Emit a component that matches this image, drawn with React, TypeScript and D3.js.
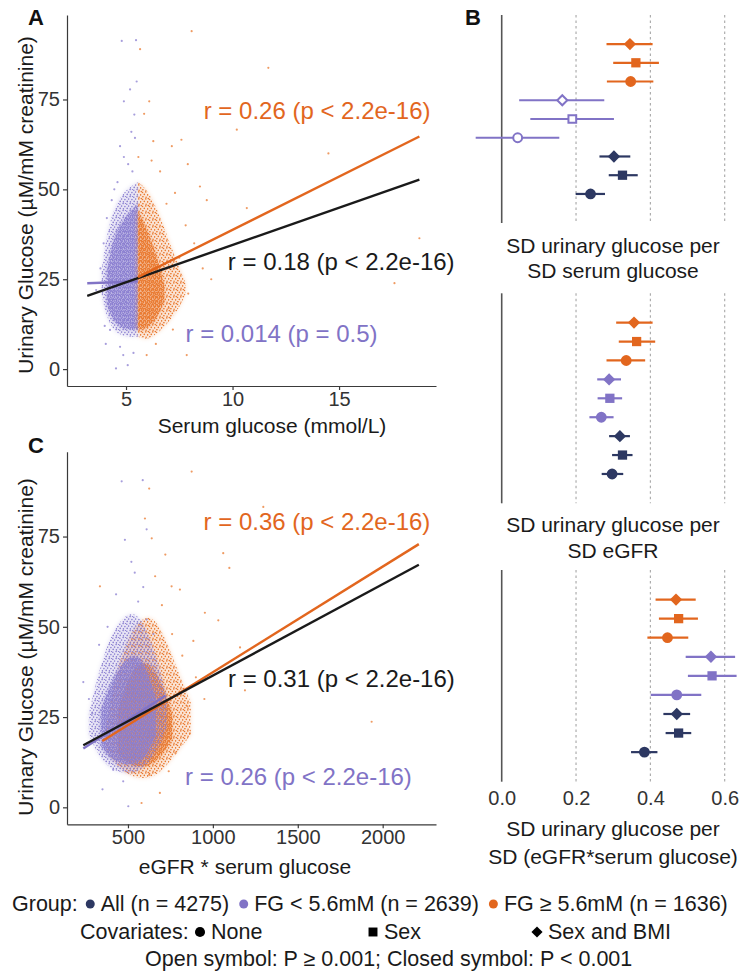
import React, { useEffect, useRef } from "react";
import * as d3 from "d3";

const ORANGE = "#E2661E";
const PURPLE = "#8173C6";
const NAVY = "#2D3862";
const ORANGE_PT = "#E9792F";
const PURPLE_PT = "#8A7ED0";
const FONT = "'Liberation Sans', Arial, Helvetica, sans-serif";

// ---- scatter: scattered points [x, urinary glucose]
const serumLowPoints = [
  [4.8, 91.3], [5.47, 91.5], [5.19, 77.8], [4.9, 74.5], [5.39, 70.8], [5.42, 64.3], [4.72, 62], [4.33, 47],
  [4.53, 0.2], [5.08, 1.1], [4.87, 3.9], [4.72, 6.2], [4.25, 10.9], [4.9, 59], [5.3, 55], [4.6, 52],
  [5.1, 57], [3.95, 35], [4.1, 42], [3.8, 28], [3.6, 22], [4.0, 12], [5.5, 80], [4.45, 50], [5.25, 66],
  [4.05, 7], [5.35, 4.5],
];
const serumHighPoints = [
  [5.66, 89], [8.08, 94], [11.68, 83.8], [6.09, 74.5], [5.85, 71], [10.2, 66.6], [6.28, 63.4], [7.15, 62],
  [7.6, 63.8], [14.5, 60], [5.58, 59], [8.47, 50.8], [8.79, 47], [10.67, 44.8], [18.77, 36.4], [17.6, 23.9],
  [7.92, 21], [7.85, 3.9], [5.97, 3.9], [6.6, 55], [7.3, 49], [6.9, 46], [7.8, 40], [8.2, 35], [7.5, 31],
  [8.6, 28], [7.0, 17], [6.4, 7], [7.2, 11], [9.0, 25], [6.2, 58], [7.9, 57],
];
const productLowPoints = [
  [463, 90.3], [587, 90.6], [610, 77], [482, 74.1], [237, 34.7], [502, 0.3], [472, 7.2], [413, 10.4],
  [590, 61], [560, 57], [430, 59], [520, 68], [380, 50], [290, 26], [270, 30], [330, 45], [610, 52],
  [650, 48], [350, 5], [540, 65],
];
const productHighPoints = [
  [625, 88.3], [875, 93], [1297, 83.2], [640, 74.5], [335, 61.2], [1061, 70.4], [1097, 66.3], [757, 61.2],
  [806, 60.3], [953, 53.9], [1032, 51.8], [1160, 44.3], [885, 46.1], [1935, 23.7], [1189, 32.4], [865, 20.5],
  [580, 1.2], [688, 4], [625, 9], [700, 56], [760, 48], [820, 42], [900, 36], [850, 28], [780, 15],
  [740, 10], [950, 30], [660, 64], [720, 70], [600, 80],
];

// ---- dense part of each cloud: [x, low y, high y] (cloud = sparse edge, core = dense middle)
const serumLowCloud = [[3.85, 21, 27], [4.1, 14, 38], [4.5, 10, 46], [5.0, 9, 50], [5.56, 9, 52]];
const serumLowCore = [[4.1, 18, 27], [4.4, 13, 37], [4.9, 11, 42], [5.56, 11, 46]];
const serumHighCloud = [[5.56, 9, 52], [6.0, 8, 50], [6.5, 10, 44], [7.0, 13, 36], [7.5, 17, 28], [7.8, 21, 24]];
const serumHighCore = [[5.56, 11, 44], [5.9, 11, 40], [6.3, 13, 34], [6.6, 16, 28], [6.8, 19, 23]];
const productLowCloud = [[270, 20, 26], [340, 13, 40], [420, 10, 50], [520, 9, 55], [600, 11, 51], [680, 16, 40], [730, 22, 30]];
const productLowCore = [[340, 17, 27], [400, 13, 35], [480, 12, 41], [560, 12, 43], [620, 15, 37], [665, 20, 30]];
const productHighCloud = [[370, 16, 22], [440, 11, 40], [540, 8, 51], [640, 8, 54], [720, 11, 47], [800, 16, 37], [870, 20, 29]];
const productHighCore = [[440, 15, 26], [500, 12, 36], [580, 11, 41], [650, 12, 39], [710, 15, 33], [760, 19, 26]];

// ---- fitted lines, end points
const serumFitAll = [[3.18, 20.4], [18.77, 52.7]];
const serumFitLow = [[3.18, 23.9], [5.55, 24.4]];
const serumFitHigh = [[5.56, 25.6], [18.77, 64.7]];
const productFitAll = [[237, 17.2], [2213, 67.2]];
const productFitLow = [[237, 16.3], [722, 31.0]];
const productFitHigh = [[349, 18.4], [2213, 72.9]];

// labels: FG >= 5.6, All, FG < 5.6
const serumLabels = ["r = 0.26 (p < 2.2e-16)", "r = 0.18 (p < 2.2e-16)", "r = 0.014 (p = 0.5)"];
const productLabels = ["r = 0.36 (p < 2.2e-16)", "r = 0.31 (p < 2.2e-16)", "r = 0.26 (p < 2.2e-16)"];

const yTicks = [0, 25, 50, 75];
const serumTicks = [5, 10, 15];
const productTicks = [500, 1000, 1500, 2000];

// ---- forest plots, rows top to bottom
const rowGroup = ["high", "high", "high", "low", "low", "low", "all", "all", "all"];
const rowCovariate = ["bmi", "sex", "none", "bmi", "sex", "none", "bmi", "sex", "none"];
const serumEst = [0.345, 0.361, 0.347, 0.163, 0.19, 0.043, 0.302, 0.325, 0.239];
const serumLo = [0.282, 0.3, 0.283, 0.047, 0.077, -0.07, 0.263, 0.288, 0.199];
const serumHi = [0.406, 0.423, 0.408, 0.276, 0.302, 0.155, 0.346, 0.366, 0.278];
const serumClosed = [true, true, true, false, false, false, true, true, true];
const egfrEst = [0.356, 0.363, 0.335, 0.289, 0.291, 0.268, 0.318, 0.325, 0.297];
const egfrLo = [0.308, 0.315, 0.282, 0.257, 0.258, 0.236, 0.289, 0.297, 0.269];
const egfrHi = [0.406, 0.413, 0.386, 0.321, 0.324, 0.301, 0.345, 0.352, 0.327];
const productEst = [0.469, 0.476, 0.446, 0.563, 0.566, 0.471, 0.471, 0.476, 0.384];
const productLo = [0.414, 0.423, 0.392, 0.495, 0.501, 0.401, 0.435, 0.441, 0.348];
const productHi = [0.522, 0.528, 0.502, 0.628, 0.632, 0.537, 0.507, 0.51, 0.419];
const forestTicks = [0, 0.2, 0.4, 0.6];

const groupNames = ["All (n = 4275)", "FG < 5.6mM (n = 2639)", "FG ≥ 5.6mM (n = 1636)"];
const covariateNames = ["None", "Sex", "Sex and BMI"];

const groupColor = { all: NAVY, low: PURPLE, high: ORANGE };

// speckle texture used to fill the dense clouds
const SPARSE_DOTS = [[0.8, 1.2], [4.1, 0.6], [2.6, 3.1], [5.9, 3.6], [1.2, 5.4], [4.4, 5.9], [6.6, 0.2]];
const DENSE_DOTS = [[0.5, 0.6], [2.4, 1.1], [1.3, 2.5], [3.4, 3.0], [0.2, 3.6], [2.6, 3.8]];

const shapePath = (kind, open) => {
  if (kind === "none") return d3.symbol(d3.symbolCircle, open ? 62 : 92)();
  if (kind === "sex") return d3.symbol(d3.symbolSquare, open ? 60 : 86)();
  return d3.symbol(d3.symbolSquare, open ? 50 : 76)();
};

function drawScatter(svg, cfg) {
  const x = d3.scaleLinear().domain(cfg.xDomain).range([67, 436]);
  const y = d3.scaleLinear().domain([-4.7, 98.5]).range([cfg.bottom, cfg.top]);
  const area = d3
    .area()
    .x((d) => x(d[0]))
    .y0((d) => y(d[1]))
    .y1((d) => y(d[2]))
    .curve(d3.curveBasis);
  const g = svg.append("g");

  cfg.clouds.forEach((c) => {
    g.append("path").attr("d", area(c.cloud)).attr("fill", c.color).attr("opacity", 0.2).attr("filter", "url(#soft)");
    g.append("path").attr("d", area(c.cloud)).attr("fill", `url(#sparse-${c.key})`);
    g.append("path").attr("d", area(c.core)).attr("fill", c.color).attr("opacity", 0.45).attr("filter", "url(#soft)");
    g.append("path").attr("d", area(c.core)).attr("fill", `url(#dense-${c.key})`);
    g.selectAll(null)
      .data(c.points)
      .enter()
      .append("circle")
      .attr("cx", (d) => x(d[0]))
      .attr("cy", (d) => y(d[1]))
      .attr("r", 1.1)
      .attr("fill", c.color)
      .attr("opacity", 0.75);
  });

  const line = d3
    .line()
    .x((d) => x(d[0]))
    .y((d) => y(d[1]));
  cfg.fits.forEach((f) => {
    g.append("path")
      .attr("d", line(f.data))
      .attr("fill", "none")
      .attr("stroke", f.color)
      .attr("stroke-width", 2.4);
  });

  const ya = g
    .append("g")
    .attr("transform", "translate(67,0)")
    .call(d3.axisLeft(y).tickValues(yTicks).tickSize(4).tickSizeOuter(0).tickPadding(3));
  const xa = g
    .append("g")
    .attr("transform", `translate(0,${cfg.bottom})`)
    .call(
      d3.axisBottom(x).tickValues(cfg.xTicks).tickFormat(d3.format("d")).tickSize(4).tickSizeOuter(0).tickPadding(2)
    );
  [ya, xa].forEach((a) => {
    a.selectAll("text").attr("font-size", 20).attr("font-family", FONT).attr("fill", "#333");
    a.selectAll("path, line").attr("stroke", "#3a3a3a").attr("stroke-width", 1.2);
  });

  cfg.labels.forEach((t, i) => {
    g.append("text")
      .attr("x", x(cfg.labelPos[i][0]))
      .attr("y", y(cfg.labelPos[i][1]))
      .attr("text-anchor", "middle")
      .attr("dominant-baseline", "central")
      .attr("font-family", FONT)
      .attr("font-size", 24)
      .attr("fill", cfg.labelColors[i])
      .text(t);
  });

  g.append("text")
    .attr("x", cfg.xTitlePos[0])
    .attr("y", cfg.xTitlePos[1])
    .attr("text-anchor", "middle")
    .attr("dominant-baseline", "central")
    .attr("font-family", FONT)
    .attr("font-size", 21)
    .attr("fill", "#1a1a1a")
    .text(cfg.xTitle);
  g.append("text")
    .attr("transform", `translate(25,${cfg.yTitleY}) rotate(-90)`)
    .attr("text-anchor", "middle")
    .attr("dominant-baseline", "central")
    .attr("font-family", FONT)
    .attr("font-size", 21)
    .attr("fill", "#1a1a1a")
    .text("Urinary Glucose (µM/mM creatinine)");
}

function drawForest(svg, cfg) {
  const x = d3.scaleLinear().domain([0, 0.6]).range([501.7, 724.7]);
  const y = d3.scalePoint().domain(d3.range(9)).range([cfg.top, cfg.bottom]).padding(1.55);
  const g = svg.append("g");

  g.selectAll(null)
    .data(forestTicks.slice(1))
    .enter()
    .append("line")
    .attr("x1", (d) => x(d))
    .attr("x2", (d) => x(d))
    .attr("y1", cfg.top)
    .attr("y2", cfg.bottom)
    .attr("stroke", "#a6a6a6")
    .attr("stroke-width", 1.1)
    .attr("stroke-dasharray", "2.5,3");
  g.append("line")
    .attr("x1", x(0))
    .attr("x2", x(0))
    .attr("y1", cfg.top)
    .attr("y2", cfg.bottom)
    .attr("stroke", "#555")
    .attr("stroke-width", 1.6);

  const rows = d3.range(9);
  g.selectAll(null)
    .data(rows)
    .enter()
    .append("line")
    .attr("x1", (i) => x(cfg.lo[i]))
    .attr("x2", (i) => x(cfg.hi[i]))
    .attr("y1", (i) => y(i))
    .attr("y2", (i) => y(i))
    .attr("stroke", (i) => groupColor[rowGroup[i]])
    .attr("stroke-width", 2.2);
  g.selectAll(null)
    .data(rows)
    .enter()
    .append("path")
    .attr("d", (i) => shapePath(rowCovariate[i], !cfg.closed[i]))
    .attr("transform", (i) => `translate(${x(cfg.est[i])},${y(i)})${rowCovariate[i] === "bmi" ? " rotate(45)" : ""}`)
    .attr("fill", (i) => (cfg.closed[i] ? groupColor[rowGroup[i]] : "#fff"))
    .attr("stroke", (i) => (cfg.closed[i] ? "none" : groupColor[rowGroup[i]]))
    .attr("stroke-width", 2);

  cfg.title.forEach((t, k) => {
    g.append("text")
      .attr("x", 613)
      .attr("y", cfg.titleY[k])
      .attr("text-anchor", "middle")
      .attr("dominant-baseline", "central")
      .attr("font-family", FONT)
      .attr("font-size", 21)
      .attr("fill", "#1a1a1a")
      .text(t);
  });

  if (cfg.axis) {
    const a = g
      .append("g")
      .attr("transform", `translate(0,${cfg.bottom})`)
      .call(d3.axisBottom(x).tickValues(forestTicks).tickFormat(d3.format(".1f")).tickSize(0).tickPadding(9));
    a.select(".domain").remove();
    a.selectAll("text").attr("font-size", 20).attr("font-family", FONT).attr("fill", "#333");
  }
}

function drawLegend(svg) {
  const g = svg.append("g").attr("font-family", FONT).attr("font-size", 21.5).attr("fill", "#1a1a1a");
  const txt = (x, y, s) => {
    const t = g.append("text").attr("x", x).attr("y", y).attr("dominant-baseline", "central").text(s);
    return t.node().getComputedTextLength();
  };
  // line 1: groups
  let cx = 12;
  cx += txt(cx, 904, "Group:") + 8;
  const gc = [NAVY, PURPLE, ORANGE];
  groupNames.forEach((s, i) => {
    g.append("circle").attr("cx", cx + 4.5).attr("cy", 904).attr("r", 4.5).attr("fill", gc[i]);
    cx += 15;
    cx += txt(cx, 904, s) + 10;
  });
  // line 2: covariates
  txt(80, 932, "Covariates:");
  const keyX = [200, 373, 537];
  covariateNames.forEach((s, i) => {
    const kind = ["none", "sex", "bmi"][i];
    g.append("path")
      .attr(
        "d",
        kind === "none"
          ? d3.symbol(d3.symbolCircle, 80)()
          : kind === "sex"
          ? d3.symbol(d3.symbolSquare, 80)()
          : d3.symbol(d3.symbolSquare, 62)()
      )
      .attr("transform", `translate(${keyX[i]},932)${kind === "bmi" ? " rotate(45)" : ""}`)
      .attr("fill", "#000");
    txt(keyX[i] + 11, 932, s);
  });
  // line 3
  txt(145, 959, "Open symbol: P ≥ 0.001; Closed symbol: P < 0.001");
}

const App = () => {
  const svgRef = useRef();

  useEffect(() => {
    const svg = d3.select(svgRef.current);
    svg.selectAll("*").remove();

    const defs = svg.append("defs");
    defs
      .append("filter")
      .attr("id", "soft")
      .attr("x", "-20%")
      .attr("y", "-20%")
      .attr("width", "140%")
      .attr("height", "140%")
      .append("feGaussianBlur")
      .attr("stdDeviation", 2.2);
    const patterns = [
      ["low", PURPLE_PT, 0],
      ["high", ORANGE_PT, 1],
    ];
    patterns.forEach(([k, c, o]) => {
      const sp = defs
        .append("pattern")
        .attr("id", `sparse-${k}`)
        .attr("patternUnits", "userSpaceOnUse")
        .attr("width", 7)
        .attr("height", 7);
      SPARSE_DOTS.forEach(([px, py]) =>
        sp.append("circle").attr("cx", (px + o * 1.7) % 7).attr("cy", (py + o * 2.3) % 7).attr("r", 0.8).attr("fill", c)
      );
      const dn = defs
        .append("pattern")
        .attr("id", `dense-${k}`)
        .attr("patternUnits", "userSpaceOnUse")
        .attr("width", 4)
        .attr("height", 4);
      DENSE_DOTS.forEach(([px, py]) =>
        dn.append("circle").attr("cx", (px + o * 1.1) % 4).attr("cy", (py + o * 1.3) % 4).attr("r", 0.8).attr("fill", c)
      );
    });

    drawScatter(svg, {
      xDomain: [2.23, 19.55],
      top: 15,
      bottom: 386,
      xTicks: serumTicks,
      clouds: [
        { key: "low", color: PURPLE_PT, cloud: serumLowCloud, core: serumLowCore, points: serumLowPoints },
        { key: "high", color: ORANGE_PT, cloud: serumHighCloud, core: serumHighCore, points: serumHighPoints },
      ],
      fits: [
        { data: serumFitLow, color: PURPLE },
        { data: serumFitAll, color: "#1a1a1a" },
        { data: serumFitHigh, color: ORANGE },
      ],
      labels: serumLabels,
      labelPos: [[13.97, 72], [15.1, 29.9], [12.3, 10]],
      labelColors: [ORANGE, "#1a1a1a", PURPLE],
      xTitle: "Serum glucose (mmol/L)",
      xTitlePos: [272, 425],
      yTitleY: 205,
    });

    drawScatter(svg, {
      xDomain: [141, 2314],
      top: 451.7,
      bottom: 824.3,
      xTicks: productTicks,
      clouds: [
        { key: "high", color: ORANGE_PT, cloud: productHighCloud, core: productHighCore, points: productHighPoints },
        { key: "low", color: PURPLE_PT, cloud: productLowCloud, core: productLowCore, points: productLowPoints },
      ],
      fits: [
        { data: productFitHigh, color: ORANGE },
        { data: productFitLow, color: PURPLE },
        { data: productFitAll, color: "#1a1a1a" },
      ],
      labels: productLabels,
      labelPos: [[1613, 79.1], [1757, 35.7], [1504, 8.5]],
      labelColors: [ORANGE, "#1a1a1a", PURPLE],
      xTitle: "eGFR * serum glucose",
      xTitlePos: [245, 866],
      yTitleY: 647,
    });

    drawForest(svg, {
      top: 15, bottom: 223, est: serumEst, lo: serumLo, hi: serumHi, closed: serumClosed,
      title: ["SD urinary glucose per", "SD serum glucose"], titleY: [245, 270], axis: false,
    });
    drawForest(svg, {
      top: 293.3, bottom: 503.3, est: egfrEst, lo: egfrLo, hi: egfrHi, closed: egfrEst.map(() => true),
      title: ["SD urinary glucose per", "SD eGFR"], titleY: [524, 550], axis: false,
    });
    drawForest(svg, {
      top: 570, bottom: 781.7, est: productEst, lo: productLo, hi: productHi, closed: productEst.map(() => true),
      title: ["SD urinary glucose per", "SD (eGFR*serum glucose)"], titleY: [828, 856], axis: true,
    });

    const letters = [["A", 28, 25], ["B", 465, 25], ["C", 28, 453]];
    letters.forEach(([s, lx, ly]) => {
      svg.append("text").attr("x", lx).attr("y", ly).attr("font-family", FONT).attr("font-weight", "bold")
        .attr("font-size", 22).attr("fill", "#111").text(s);
    });

    drawLegend(svg);
  }, []);

  return (
    <svg
      ref={svgRef}
      width={742}
      height={974}
      style={{ position: "absolute", left: 0, top: 0, background: "#fff" }}
    ></svg>
  );
};

export default App;
